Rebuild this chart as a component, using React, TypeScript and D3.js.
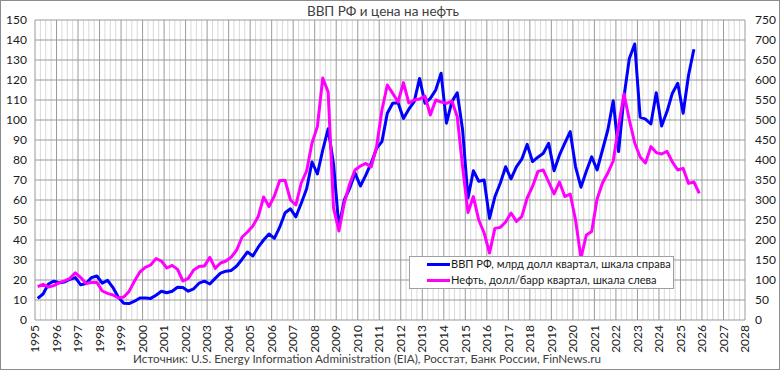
import React from "react";
import * as d3 from "d3";

const title = "ВВП РФ и цена на нефть";
const source = "Источник: U.S. Energy Information Administration (EIA), Росстат, Банк России, FinNews.ru";
const legendGdp = "ВВП РФ, млрд долл квартал, шкала справа";
const legendOil = "Нефть, долл/барр квартал, шкала слева";

const startYear = 1995;
const yearTicks = d3.range(1995, 2029);
const leftTicks = d3.range(0, 151, 10);
const rightTicks = d3.range(0, 751, 50);

// Russia GDP, bn USD per quarter (right axis), from 1995 Q1
const gdp = [
  54, 65, 90, 97,
  93, 95, 102, 106,
  88, 91, 106, 110,
  92, 99, 81, 57,
  42, 41, 47, 55,
  55, 54, 62, 72,
  68, 72, 82, 81,
  72, 78, 92, 97,
  90, 104, 117, 122,
  124, 135, 152, 170,
  160, 182, 200, 215,
  204, 232, 268, 278,
  258, 292, 328, 395,
  365, 425, 478, 390,
  233, 300, 329, 367,
  335, 362, 392, 429,
  446, 517, 542, 543,
  504, 527, 546, 604,
  542, 554, 575, 617,
  492, 546, 568, 475,
  305, 373, 347, 350,
  254, 308, 342, 383,
  353, 383, 402, 439,
  396, 407, 417, 442,
  373, 412, 442, 471,
  383, 332, 372, 408,
  375, 425, 475, 548,
  421, 558, 654, 690,
  507, 502, 490, 568,
  485, 521, 567, 592,
  517, 612, 677,
];

// Oil, USD per barrel, quarterly average (left axis), from 1995 Q1
const oil = [
  16.7, 17.8, 16.5, 17.2,
  18.7, 19.5, 20.8, 23.6,
  21.2, 18.3, 18.7, 18.8,
  14.5, 13.3, 12.5, 11,
  11.5, 14.3, 19.5, 24,
  26.3, 27.5, 30.7, 29.5,
  26, 27.3, 25.3, 19.5,
  20.8, 25, 26.7, 27,
  31.3, 25.8, 28.5, 29.5,
  31.5, 35, 41.5, 44,
  47, 51.7, 61.5, 56.7,
  62, 69.8, 69.7, 60,
  57.5, 68.5, 74.5, 88.5,
  96.7, 121, 114, 56,
  44.5, 58.5, 68, 75,
  77, 78.3, 76.5, 86.5,
  105, 117.5, 113.3, 109,
  118.7, 108.5, 110, 110.5,
  112, 102.5, 110, 109,
  108.3, 109.5, 101.7, 76.5,
  53.7, 61.7, 50, 43.5,
  33.5, 45.8, 46.3, 49,
  53.5, 49.3, 51.7, 61,
  66.8, 74.3, 75, 69,
  63, 69, 61.7, 63,
  50, 31, 42.5, 44.2,
  60.5, 68.5, 73.5, 79.5,
  97, 113, 100, 88.5,
  81.5, 78.5, 86.7, 83.7,
  83, 84.3, 79, 75,
  75.8, 68.3, 69, 63.3,
];

const W = 780;
const H = 370;
const L = 35, R = 745, T = 20, B = 320;
const FONT = "Lato, 'Liberation Sans', sans-serif";

export default function App() {
  const x = d3.scaleLinear().domain([1995, 2028]).range([L, R]);
  const yL = d3.scaleLinear().domain([0, 150]).range([B, T]);
  const yR = d3.scaleLinear().domain([0, 750]).range([B, T]);
  const qt = (i: number) => startYear + i / 4 + 0.125;

  const lineGdp = d3.line<number>().x((_, i) => x(qt(i))).y((d) => yR(d));
  const lineOil = d3.line<number>().x((_, i) => x(qt(i))).y((d) => yL(d));

  const minorX = d3.range(0, 33 * 4 + 1).filter((k) => k % 4 !== 0).map((k) => 1995 + k / 4);

  return (
    <svg width={W} height={H} style={{ position: "absolute", left: 0, top: 0 }} fontFamily={FONT}>
      <rect x={0.5} y={0.5} width={W - 1} height={H - 1} fill="#fff" stroke="#8c8c8c" />
      <text x={383} y={16} textAnchor="middle" fontSize={13.5} fill="#404040">{title}</text>
      {minorX.map((t) => (
        <line key={"m" + t} x1={x(t)} x2={x(t)} y1={T} y2={B} stroke="#d9d9d9" strokeWidth={1} />
      ))}
      {leftTicks.map((v) => (
        <line key={"h" + v} x1={L} x2={R} y1={yL(v)} y2={yL(v)} stroke="#9a9a9a" strokeWidth={1} />
      ))}
      {yearTicks.map((yr) => (
        <line key={"v" + yr} x1={x(yr)} x2={x(yr)} y1={T} y2={B} stroke="#9a9a9a" strokeWidth={1} />
      ))}
      {leftTicks.map((v) => (
        <text key={"l" + v} x={27} y={yL(v)} dy="0.35em" textAnchor="end" fontSize={12} fill="#1a1a1a">{v}</text>
      ))}
      {rightTicks.map((v) => (
        <text key={"r" + v} x={755} y={yR(v)} dy="0.35em" textAnchor="start" fontSize={12} fill="#1a1a1a">{v}</text>
      ))}
      {yearTicks.map((yr) => (
        <text key={"x" + yr} transform={`translate(${x(yr)},325) rotate(-90)`} dy="0.35em" textAnchor="end" fontSize={12} fill="#1a1a1a">{yr}</text>
      ))}
      <path d={lineGdp(gdp) || ""} fill="none" stroke="#0000ff" strokeWidth={3} strokeLinejoin="round" />
      <path d={lineOil(oil) || ""} fill="none" stroke="#ff00ff" strokeWidth={3} strokeLinejoin="round" />
      <rect x={409.5} y={256.5} width={264} height={32} fill="#fff" stroke="#a0a0a0" />
      <line x1={427} x2={450} y1={264.5} y2={264.5} stroke="#0000ff" strokeWidth={3} />
      <line x1={427} x2={450} y1={280.5} y2={280.5} stroke="#ff00ff" strokeWidth={3} />
      <text x={451} y={264.5} dy="0.35em" fontSize={11.1} fill="#1a1a1a">{legendGdp}</text>
      <text x={451} y={280.5} dy="0.35em" fontSize={11.1} fill="#1a1a1a">{legendOil}</text>
      <text x={367} y={363} textAnchor="middle" fontSize={11.7} fill="#404040">{source}</text>
    </svg>
  );
}
